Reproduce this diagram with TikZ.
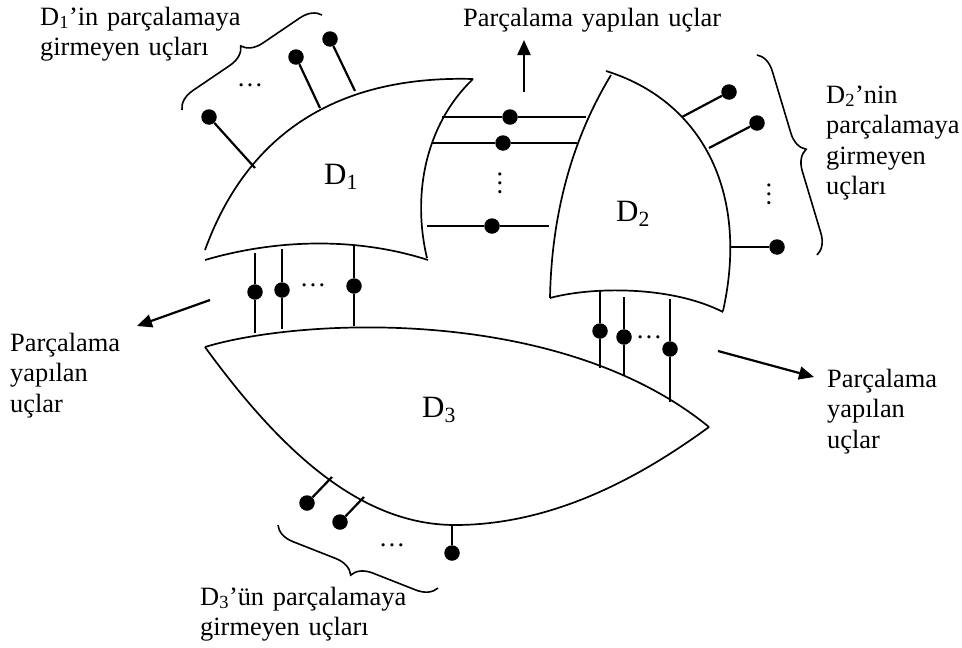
\documentclass[tikz,border=0pt]{standalone}
\usepackage{fontspec}
\setmainfont{Liberation Serif}
\usetikzlibrary{arrows.meta,decorations.pathreplacing}
\begin{document}
\begin{tikzpicture}[x=1pt,y=1pt,
  outline/.style={line width=1.7pt},
  pinline/.style={line width=2.2pt},
  dot/.style={circle,fill=black,inner sep=0pt,minimum size=15.5pt},
  lbl/.style={font=\fontsize{26.4}{30.5}\selectfont,inner sep=0pt,anchor=base west,text width=260pt,align=left},
  dname/.style={font=\fontsize{31}{32}\selectfont,inner sep=0pt,anchor=base west},
  ell/.style={font=\fontsize{26.4}{30}\selectfont,inner sep=0pt},
  arr/.style={line width=2.2pt,-{Triangle[length=15pt,width=13pt]}},
  brc/.style={line width=1.6pt,decorate,decoration={brace,amplitude=20pt}},
]
\useasboundingbox (0,0) rectangle (962,-648);

% ---------- D1 ----------
\draw[outline] (205,-250) .. controls (245,-140) and (330,-75) .. (473,-79);
\draw[outline] (473,-79) .. controls (425,-125) and (412,-195) .. (427,-258);
\draw[outline] (205,-260) .. controls (280,-238) and (360,-238) .. (428,-260);
\node[dname] (d1) at (324,-184) {D\textsubscript{1}};

% ---------- D2 ----------
\draw[outline] (606,-71) .. controls (700,-100) and (750,-190) .. (723,-311);
\draw[outline] (611,-75) .. controls (585,-118) and (552,-190) .. (550,-298);
\draw[outline] (550,-298) .. controls (590,-287) and (670,-285) .. (723,-312);
\node[dname] (d2) at (616,-221) {D\textsubscript{2}};

% ---------- D3 ----------
\draw[outline] (205,-347) .. controls (300,-318) and (560,-305) .. (709,-427);
\draw[outline] (205,-347) .. controls (280,-450) and (360,-525) .. (455,-525)
                         .. controls (560,-525) and (650,-470) .. (709,-427);
\node[dname] (d3) at (422,-417) {D\textsubscript{3}};

% ---------- D1 free ends ----------
\coordinate (a1) at (255,-168); \node[dot] (p1) at (209,-117) {};
\coordinate (a2) at (320,-108); \node[dot] (p2) at (296,-57) {};
\coordinate (a3) at (355,-91);  \node[dot] (p3) at (330,-39) {};
\draw[pinline] (a1) -- (p1); \draw[pinline] (a2) -- (p2); \draw[pinline] (a3) -- (p3);
\node[ell] (e1) at (250,-85) {…};

% ---------- D1-D2 cut ends ----------
\coordinate (hl1) at (442,-117); \coordinate (hr1) at (586,-117); \node[dot] (hd1) at (510,-117) {};
\coordinate (hl2) at (432,-143); \coordinate (hr2) at (577,-143); \node[dot] (hd2) at (503,-143) {};
\coordinate (hl3) at (427,-226); \coordinate (hr3) at (549,-226); \node[dot] (hd3) at (492,-226) {};
\draw[pinline] (hl1) -- (hd1) -- (hr1);
\draw[pinline] (hl2) -- (hd2) -- (hr2);
\draw[pinline] (hl3) -- (hd3) -- (hr3);
\node[ell,rotate=90] (e2) at (500,-183) {…};

% ---------- D2 free ends ----------
\coordinate (b1) at (682,-117); \node[dot] (q1) at (729,-92) {};
\coordinate (b2) at (709,-148); \node[dot] (q2) at (757,-123) {};
\coordinate (b3) at (730,-247); \node[dot] (q3) at (777,-247) {};
\draw[pinline] (b1) -- (q1); \draw[pinline] (b2) -- (q2); \draw[pinline] (b3) -- (q3);
\node[ell,rotate=90] (e3) at (769,-194) {…};

% ---------- D1-D3 cut ends ----------
\coordinate (vt1) at (255,-253); \coordinate (vb1) at (255,-333); \node[dot] (vd1) at (255,-292) {};
\coordinate (vt2) at (282,-249); \coordinate (vb2) at (282,-329); \node[dot] (vd2) at (282,-290) {};
\coordinate (vt3) at (354,-246); \coordinate (vb3) at (354,-326); \node[dot] (vd3) at (354,-286) {};
\draw[pinline] (vt1) -- (vd1) -- (vb1);
\draw[pinline] (vt2) -- (vd2) -- (vb2);
\draw[pinline] (vt3) -- (vd3) -- (vb3);
\node[ell] (e4) at (313,-285) {…};

% ---------- D2-D3 cut ends ----------
\coordinate (wt1) at (600,-290); \coordinate (wb1) at (600,-368); \node[dot] (wd1) at (600,-331) {};
\coordinate (wt2) at (624,-297); \coordinate (wb2) at (624,-376); \node[dot] (wd2) at (624,-337) {};
\coordinate (wt3) at (670,-299); \coordinate (wb3) at (670,-402); \node[dot] (wd3) at (670,-349) {};
\draw[pinline] (wt1) -- (wd1) -- (wb1);
\draw[pinline] (wt2) -- (wd2) -- (wb2);
\draw[pinline] (wt3) -- (wd3) -- (wb3);
\node[ell] (e5) at (649,-337) {…};

% ---------- D3 free ends ----------
\coordinate (c1) at (332,-477); \node[dot] (r1) at (307,-503) {};
\coordinate (c2) at (364,-497); \node[dot] (r2) at (340,-522) {};
\coordinate (c3) at (452,-525); \node[dot] (r3) at (452,-553) {};
\draw[pinline] (c1) -- (r1); \draw[pinline] (c2) -- (r2); \draw[pinline] (c3) -- (r3);
\node[ell] (e6) at (392,-545) {…};

% ---------- braces ----------
\coordinate (br1s) at (182,-110); \coordinate (br1e) at (322,-15);
\draw[brc] (br1s) -- (br1e);
\coordinate (br2s) at (757,-55); \coordinate (br2e) at (817,-255);
\draw[brc] (br2s) -- (br2e);
\coordinate (br3s) at (438,-588); \coordinate (br3e) at (278,-525);
\draw[brc] (br3s) -- (br3e);

% ---------- arrows ----------
\coordinate (u0) at (524,-92); \coordinate (u1) at (524,-40);
\draw[arr] (u0) -- (u1);
\coordinate (l0) at (210,-300); \coordinate (l1) at (137,-326);
\draw[arr] (l0) -- (l1);
\coordinate (r0) at (718,-351); \coordinate (r1a) at (814,-377);
\draw[arr] (r0) -- (r1a);

% ---------- labels ----------
\node[lbl] (t1) at (40,-25) {D\textsubscript{1}’in parçalamaya\\girmeyen uçları};
\node[lbl] (t2) at (463,-26) {Parçalama yapılan uçlar};
\node[lbl] (t3) at (826,-103) {D\textsubscript{2}’nin\\parçalamaya\\girmeyen\\uçları};
\node[lbl] (t4) at (10,-351) {Parçalama\\yapılan\\uçlar};
\node[lbl] (t5) at (827,-387) {Parçalama\\yapılan\\uçlar};
\node[lbl] (t6) at (200,-605) {D\textsubscript{3}’ün parçalamaya\\girmeyen uçları};
\end{tikzpicture}
\end{document}
